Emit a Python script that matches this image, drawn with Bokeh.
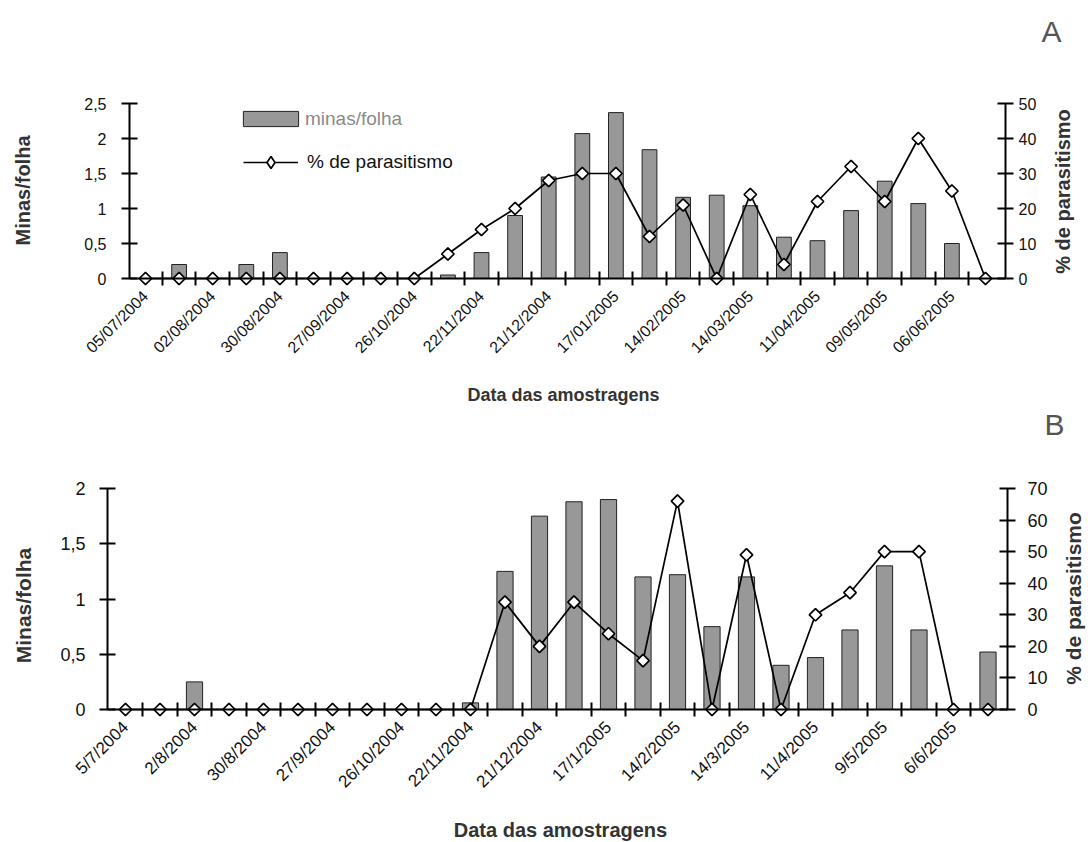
import math
from bokeh.plotting import figure
from bokeh.models import (Range1d, LinearAxis, FixedTicker, Legend, LegendItem,
                          Label, ColumnDataSource)
from bokeh.layouts import column
from bokeh.embed import file_html
from bokeh.resources import INLINE

FONT = "Liberation Sans"

# ---------------- data ----------------
labels_A = ["05/07/2004", "02/08/2004", "30/08/2004", "27/09/2004", "26/10/2004",
            "22/11/2004", "21/12/2004", "17/01/2005", "14/02/2005", "14/03/2005",
            "11/04/2005", "09/05/2005", "06/06/2005"]
labels_B = ["5/7/2004", "2/8/2004", "30/8/2004", "27/9/2004", "26/10/2004",
            "22/11/2004", "21/12/2004", "17/1/2005", "14/2/2005", "14/3/2005",
            "11/4/2005", "9/5/2005", "6/6/2005"]

minas_A = [0, 0.2, 0, 0.2, 0.37, 0, 0, 0, 0, 0.05, 0.37, 0.9, 1.45, 2.07, 2.37,
           1.84, 1.16, 1.19, 1.04, 0.59, 0.54, 0.97, 1.39, 1.07, 0.5, 0]
parasit_A = [0, 0, 0, 0, 0, 0, 0, 0, 0, 7, 14, 20, 28, 30, 30,
             12, 21, 0, 24, 4, 22, 32, 22, 40, 25, 0]

minas_B = [0, 0, 0.25, 0, 0, 0, 0, 0, 0, 0, 0.06, 1.25, 1.75, 1.88, 1.9,
           1.2, 1.22, 0.75, 1.2, 0.4, 0.47, 0.72, 1.3, 0.72, 0, 0.52]
parasit_B = [0, 0, 0, 0, 0, 0, 0, 0, 0, 0, 0, 34, 20, 34, 24,
             15.5, 66, 0, 49, 0, 30, 37, 50, 50, 0, 0]

left_ticks_A = [0, 0.5, 1, 1.5, 2, 2.5]
left_ticks_B = [0, 0.5, 1, 1.5, 2]
right_ticks_A = [0, 10, 20, 30, 40, 50]
right_ticks_B = [0, 10, 20, 30, 40, 50, 60, 70]

W = 1088


def comma(v):
    return ("%g" % v).replace(".", ",")


def panel(minas, parasit, xlabels, lticks, rticks, g):
    """g holds pixel layout of the panel (page coordinates)."""
    n = len(minas)
    idx = list(range(n))
    H, top = g["H"], g["top"]
    lmax, rmax = lticks[-1], rticks[-1]
    zero_local = g["zero"] - top                 # px from figure top to y=0
    pxu = (g["zero"] - g["ytop"]) / lmax          # px per left unit
    pxr = (g["zero"] - g["ytop"]) / rmax          # px per right unit
    sp = g["step"]
    x_range = Range1d(-g["x0"] / sp, (W - g["x0"]) / sp)
    y_range = Range1d(-(H - zero_local) / pxu, zero_local / pxu)
    p = figure(width=W, height=H, x_range=x_range, y_range=y_range,
               x_axis_location=None, y_axis_location=None,
               min_border_left=0, min_border_right=0, min_border_top=0,
               min_border_bottom=0, output_backend="svg",
               toolbar_location=None, tools="")
    p.extra_y_ranges = {"pct": Range1d(-(H - zero_local) / pxr, zero_local / pxr)}
    p.outline_line_color = None
    p.xgrid.visible = False
    p.ygrid.visible = False
    p.background_fill_color = "white"
    p.border_fill_color = "white"

    xl = (g["laxis"] - g["x0"]) / sp
    xr = (g["raxis"] - g["x0"]) / sp

    bsrc = ColumnDataSource(dict(x=[i for i in idx if minas[i] > 0],
                                 top=[v for v in minas if v > 0]))
    lsrc = ColumnDataSource(dict(x=idx, y=parasit))
    bars = p.vbar(x="x", top="top", width=g["bw"], source=bsrc,
                  fill_color="#989898", line_color="#222222", line_width=1)
    line = p.line("x", "y", source=lsrc, y_range_name="pct",
                  line_color="black", line_width=1.7)
    p.scatter("x", "y", source=lsrc, y_range_name="pct", marker="square",
              angle=math.pi / 4, size=8.8, fill_color="white",
              line_color="black", line_width=1.7)

    def style(ax, fs):
        ax.axis_line_width = 2
        ax.axis_line_color = "black"
        ax.major_tick_line_width = 2
        ax.major_tick_line_color = "black"
        ax.major_label_text_font = FONT
        ax.major_label_text_font_size = fs
        ax.major_label_text_color = "#111111"

    # x axis at y = 0
    xa = LinearAxis(fixed_location=0,
                    ticker=FixedTicker(ticks=[2 * i for i in range(len(xlabels))],
                                       minor_ticks=[i + 0.5 for i in range(n - 1)]))
    style(xa, g["xfs"])
    xa.bounds = (xl, xr)
    xa.major_label_overrides = {2 * i: lab for i, lab in enumerate(xlabels)}
    xa.major_tick_in = 0
    xa.major_tick_out = 0
    xa.minor_tick_in = 7
    xa.minor_tick_out = 7
    xa.minor_tick_line_width = 2
    xa.minor_tick_line_color = "black"
    xa.major_label_orientation = math.pi / 4
    xa.major_label_standoff = g["xl_so"]
    p.add_layout(xa, "below")

    # left axis
    ya = LinearAxis(fixed_location=xl, ticker=FixedTicker(ticks=lticks))
    style(ya, g["yfs"])
    ya.major_label_overrides = {t: comma(t) for t in lticks}
    ya.bounds = (0, lmax)
    ya.major_tick_in = 8
    ya.major_tick_out = 8
    ya.major_label_standoff = g["yl_so"]
    p.add_layout(ya, "left")

    # right axis
    ra = LinearAxis(fixed_location=xr, y_range_name="pct",
                    ticker=FixedTicker(ticks=rticks))
    style(ra, g["yfs"])
    ra.bounds = (0, rmax)
    ra.major_tick_in = 8
    ra.major_tick_out = 8
    ra.major_label_standoff = g["yr_so"]
    p.add_layout(ra, "right")

    def loc(px, py):
        return px, H - (py - top)

    def text(t, px, py, fs, bold=True, angle=0.0, color="#333333",
             align="center", baseline="middle"):
        x, y = loc(px, py)
        p.add_layout(Label(x=x, y=y, x_units="screen", y_units="screen", text=t,
                           angle=angle, text_align=align, text_baseline=baseline,
                           text_font=FONT, text_font_size=fs,
                           text_font_style="bold" if bold else "normal",
                           text_color=color))

    text("Minas/folha", g["lt"][0], g["lt"][1], g["yt_fs"], angle=math.pi / 2)
    text("% de parasitismo", g["rt"][0], g["rt"][1], g["yt_fs"], angle=math.pi / 2)
    text("Data das amostragens", g["xt"][0], g["xt"][1], g["xt_fs"])
    text(g["letter"], g["let"][0], g["let"][1], "30px", bold=False,
         color="#555555")
    return p, bars, line


gA = dict(H=405, top=0, zero=278, ytop=103, x0=145, step=33.6, laxis=129,
          raxis=1005, bw=0.44, xfs="16px", yfs="16px", xl_so=8, yl_so=15,
          yr_so=5, yt_fs="20px", xt_fs="18px", lt=(22, 190), rt=(1062, 191),
          xt=(563, 394), letter="A", let=(1051, 31))
gB = dict(H=436, top=405, zero=709, ytop=488, x0=125, step=34.5, laxis=107,
          raxis=1007, bw=0.47, xfs="17px", yfs="18px", xl_so=8, yl_so=14,
          yr_so=12, yt_fs="21px", xt_fs="20px", lt=(23, 605), rt=(1073, 598),
          xt=(560, 829), letter="B", let=(1054, 424))

pA, barsA, lineA = panel(minas_A, parasit_A, labels_A, left_ticks_A, right_ticks_A, gA)
pB, barsB, lineB = panel(minas_B, parasit_B, labels_B, left_ticks_B, right_ticks_B, gB)

# legend (panel A); a one-point NaN renderer supplies the diamond sample
HA = gA["H"]
dummy = pA.scatter(x=[float("nan")], y=[float("nan")], marker="diamond", size=12,
                   fill_color="white", line_color="black", line_width=1.7,
                   y_range_name="pct")
leg1 = Legend(items=[LegendItem(label="minas/folha", renderers=[barsA])],
              location=(236, HA - 129.5), glyph_width=69, glyph_height=19,
              label_standoff=0, padding=0, margin=0, spacing=0,
              label_text_font=FONT, label_text_font_size="19px",
              label_text_color="#8a8a8a", border_line_alpha=0,
              background_fill_alpha=0)
leg2 = Legend(items=[LegendItem(label="% de parasitismo", renderers=[lineA, dummy])],
              location=(243, HA - 177), glyph_width=55, glyph_height=30,
              label_standoff=9, padding=0, margin=0, spacing=0,
              label_text_font=FONT, label_text_font_size="19px",
              label_text_color="#111111", border_line_alpha=0,
              background_fill_alpha=0)
pA.add_layout(leg1)
pA.add_layout(leg2)

layout = column(pA, pB, spacing=0)
open("out.html", "w").write(file_html(layout, INLINE))
